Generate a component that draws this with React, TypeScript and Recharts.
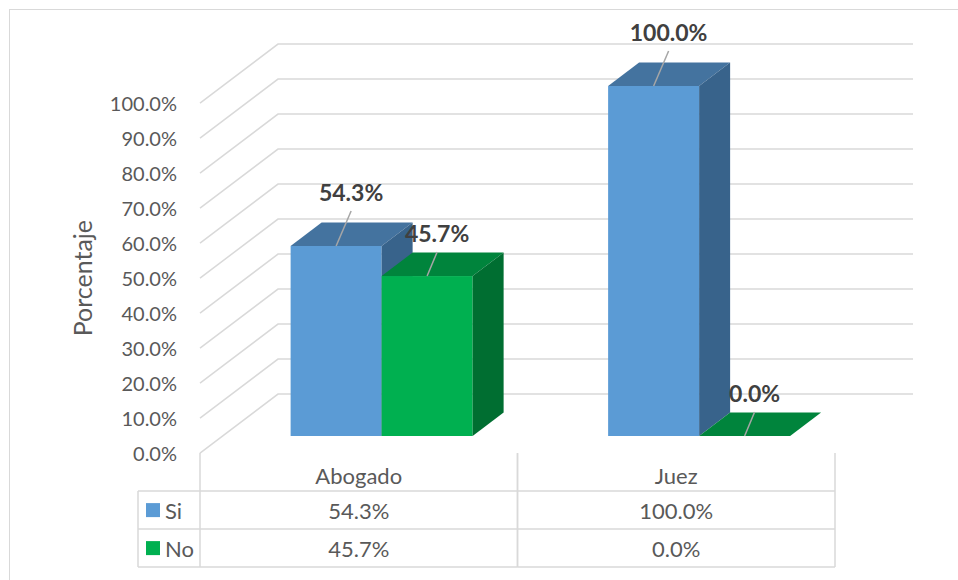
import { BarChart, Bar, XAxis, YAxis, CartesianGrid, LabelList } from 'recharts';

const categories = ['Abogado', 'Juez'];
const siValues = [54.3, 100.0];
const noValues = [45.7, 0.0];
const yTicks = [0, 10, 20, 30, 40, 50, 60, 70, 80, 90, 100];
const seriesNames = ['Si', 'No'];

const data = categories.map((name, i) => ({ name, si: siValues[i], no: noValues[i] }));

// 3d look: floor depth from the front edge to the back wall
const WALL_DX = 78;
const WALL_DY = 59;
const PLANE = 0.29; // bars stand this far back on the floor
const FRONT_DX = WALL_DX * PLANE;
const FRONT_DY = WALL_DY * PLANE;
const BACK_DX = WALL_DX - FRONT_DX;
const BACK_DY = WALL_DY - FRONT_DY;
const BAR_DX = 31;
const BAR_DY = 23.5;

const W = 958;
const H = 580;
const PLOT_LEFT = 200 + FRONT_DX;
const PLOT_RIGHT = 835 + FRONT_DX;
const PLOT_TOP = 86;
const PLOT_BOTTOM = 436;
const Y_W = 60;
const X_H = 30;
const BAND = (PLOT_RIGHT - PLOT_LEFT) / categories.length;
const ROW = 38;

const GRID = '#D9D9D9';
const TEXT = '#595959';
const FONT = 'Lato, "Open Sans", sans-serif';

const SI = { front: '#5B9BD5', top: '#44739F', side: '#38638B' };
const NO = { front: '#00B050', top: '#00843C', side: '#006E31' };
const legendColors = [SI.front, NO.front];

const fmt = (v: number) => v.toFixed(1) + '%';

function Box3D(props: any) {
  const { x, y, width, height, colors } = props;
  const h = Math.max(height || 0, 0);
  const x2 = x + width;
  const y2 = y + h;
  return (
    <g>
      <rect x={x} y={y} width={width} height={h} fill={colors.front} />
      <polygon
        points={`${x},${y} ${x + BAR_DX},${y - BAR_DY} ${x2 + BAR_DX},${y - BAR_DY} ${x2},${y}`}
        fill={colors.top}
      />
      <polygon
        points={`${x2},${y} ${x2 + BAR_DX},${y - BAR_DY} ${x2 + BAR_DX},${y2 - BAR_DY} ${x2},${y2}`}
        fill={colors.side}
      />
    </g>
  );
}

const makeLabel = (dx: number, dy: number) => (p: any) => {
  const { x, y, width, value } = p;
  const cx = x + width / 2;
  return (
    <g>
      <line x1={cx} y1={y} x2={cx + dx} y2={y - dy + 19} stroke="#A6A6A6" strokeWidth={1.5} />
      <text
        x={cx + dx}
        y={y - dy}
        textAnchor="middle"
        dominantBaseline="central"
        fill="#404040"
        fontFamily={FONT}
        fontWeight="bold"
        fontSize={23}
      >
        {fmt(Number(value))}
      </text>
    </g>
  );
};

// grid line on the plot plane -> diagonal on the side wall + line on the back wall
function wallLine(p: any) {
  const { x1, x2, y1, index } = p;
  const fx = x1 - FRONT_DX;
  const fy = y1 + FRONT_DY;
  const by = y1 - BACK_DY;
  return (
    <polyline
      key={`wall-${index}`}
      points={`${fx},${fy} ${x1 + BACK_DX},${by} ${x2 + BACK_DX},${by}`}
      fill="none"
      stroke={GRID}
      strokeWidth={1.5}
    />
  );
}

function YTick(p: any) {
  const { x, y, payload } = p;
  return (
    <text
      x={x - FRONT_DX - 23}
      y={y + FRONT_DY}
      textAnchor="end"
      dominantBaseline="central"
      fill={TEXT}
      fontFamily={FONT}
      fontSize={20}
    >
      {fmt(payload.value)}
    </text>
  );
}

function XTick(p: any) {
  const { x, y, payload, index } = p;
  const cx = x - FRONT_DX;
  const left = cx - BAND / 2;
  const right = cx + BAND / 2;
  const top = y + FRONT_DY;
  const r1 = top + ROW;
  const r2 = r1 + ROW;
  const r3 = r2 + ROW;
  const values = [siValues[index], noValues[index]];
  const txt = { fill: TEXT, fontFamily: FONT, fontSize: 22, textAnchor: 'middle' as const, dominantBaseline: 'central' as const };
  const lx = left - 62;
  return (
    <g>
      <line x1={left} y1={top} x2={left} y2={r3} stroke={GRID} strokeWidth={1.5} />
      <line x1={right} y1={top} x2={right} y2={r3} stroke={GRID} strokeWidth={1.5} />
      {[r1, r2, r3].map((ry) => (
        <line key={ry} x1={index === 0 ? lx : left} y1={ry} x2={right} y2={ry} stroke={GRID} strokeWidth={1.5} />
      ))}
      <text x={cx} y={top + ROW / 2 + 3} {...txt}>{payload.value}</text>
      {values.map((v, i) => (
        <text key={i} x={cx} y={r1 + ROW * i + ROW / 2} {...txt}>{fmt(v)}</text>
      ))}
      {index === 0 && (
        <g>
          <line x1={lx} y1={r1} x2={lx} y2={r3} stroke={GRID} strokeWidth={1.5} />
          {seriesNames.map((s, i) => (
            <g key={s}>
              <rect x={lx + 8} y={r1 + ROW * i + ROW / 2 - 7} width={14} height={14} fill={legendColors[i]} />
              <text
                x={lx + 27}
                y={r1 + ROW * i + ROW / 2}
                dominantBaseline="central"
                fill={TEXT}
                fontFamily={FONT}
                fontSize={22}
              >
                {s}
              </text>
            </g>
          ))}
        </g>
      )}
    </g>
  );
}

function AxisTitle(p: any) {
  const { viewBox } = p;
  const cy = viewBox.y + viewBox.height / 2 + FRONT_DY;
  return (
    <text
      x={82}
      y={cy}
      transform={`rotate(-90, 82, ${cy})`}
      textAnchor="middle"
      dominantBaseline="central"
      fill={TEXT}
      fontFamily={FONT}
      fontSize={25}
    >
      Porcentaje
    </text>
  );
}

export default function App() {
  return (
    <div style={{ position: 'absolute', left: 0, top: 0, width: W, height: H, overflow: 'hidden', background: '#fff' }}>
      <div
        style={{
          position: 'absolute',
          left: 9,
          top: 9,
          width: W,
          height: H,
          border: `1.5px solid ${GRID}`,
          boxSizing: 'border-box',
        }}
      />
      <BarChart
        width={W}
        height={H}
        data={data}
        margin={{
          top: PLOT_TOP,
          right: W - PLOT_RIGHT,
          bottom: H - PLOT_BOTTOM - X_H,
          left: PLOT_LEFT - Y_W,
        }}
        barCategoryGap={68}
        barGap={0}
        style={{ position: 'absolute', left: 0, top: 0 }}
      >
        <CartesianGrid vertical={false} horizontal={wallLine} />
        <XAxis
          dataKey="name"
          height={X_H}
          axisLine={false}
          tickLine={false}
          tickSize={0}
          tickMargin={0}
          interval={0}
          tick={<XTick />}
        />
        <YAxis
          width={Y_W}
          domain={[0, 100]}
          ticks={yTicks}
          interval={0}
          axisLine={false}
          tickLine={false}
          tickSize={0}
          tickMargin={0}
          tick={<YTick />}
          label={<AxisTitle />}
        />
        <Bar dataKey="si" name={seriesNames[0]} isAnimationActive={false} shape={(p: any) => <Box3D {...p} colors={SI} />}>
          <LabelList dataKey="si" content={makeLabel(15, 54)} />
        </Bar>
        <Bar dataKey="no" name={seriesNames[1]} isAnimationActive={false} shape={(p: any) => <Box3D {...p} colors={NO} />}>
          <LabelList dataKey="no" content={makeLabel(10, 43)} />
        </Bar>
      </BarChart>
    </div>
  );
}
